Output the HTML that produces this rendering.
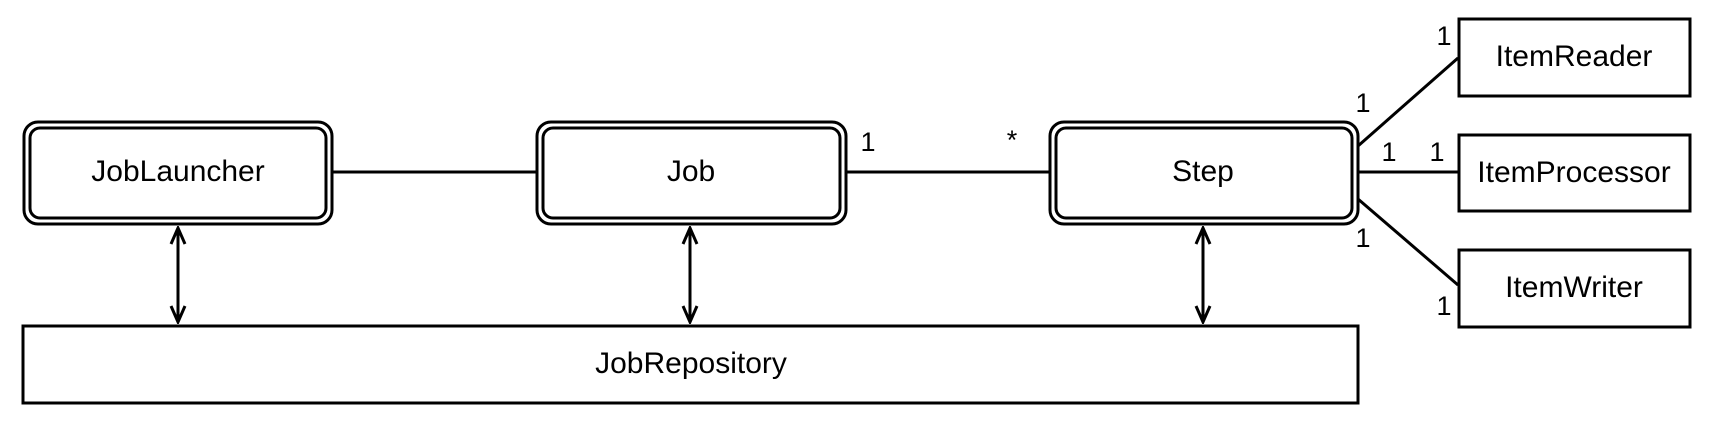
<!DOCTYPE html>
<html><head><meta charset="utf-8"><style>
html,body{margin:0;padding:0;background:#fff;}
svg{display:block;}
text{font-family:"Liberation Sans",Arial,sans-serif;fill:#000;}
</style></head><body>
<svg width="1716" height="426" viewBox="0 0 1716 426" xmlns="http://www.w3.org/2000/svg">
<defs>
<marker id="ah" viewBox="0 0 20 20" refX="18" refY="10" markerWidth="20" markerHeight="20" markerUnits="userSpaceOnUse" orient="auto-start-reverse">
<path d="M2,3 L18,10 L2,17" fill="none" stroke="#000" stroke-width="3"/>
</marker>
</defs>
<g fill="none" stroke="#000" stroke-width="3">
<line x1="332" y1="172" x2="536" y2="172"/>
<line x1="846" y1="172" x2="1049" y2="172"/>
<line x1="1358" y1="172" x2="1458" y2="172"/>
<line x1="1358" y1="146" x2="1458" y2="58"/>
<line x1="1358" y1="199" x2="1458" y2="285"/>
<line x1="178" y1="228" x2="178" y2="322" marker-start="url(#ah)" marker-end="url(#ah)"/>
<line x1="690" y1="228" x2="690" y2="322" marker-start="url(#ah)" marker-end="url(#ah)"/>
<line x1="1203" y1="228" x2="1203" y2="322" marker-start="url(#ah)" marker-end="url(#ah)"/>
<rect x="24" y="122" width="308" height="102" rx="14" fill="#fff"/>
<rect x="30" y="128" width="296" height="90" rx="10"/>
<rect x="537" y="122" width="309" height="102" rx="14" fill="#fff"/>
<rect x="543" y="128" width="297" height="90" rx="10"/>
<rect x="1050" y="122" width="308" height="102" rx="14" fill="#fff"/>
<rect x="1056" y="128" width="296" height="90" rx="10"/>
<rect x="23" y="326" width="1335" height="77"/>
<rect x="1459" y="19" width="231" height="77"/>
<rect x="1459" y="135" width="231" height="76"/>
<rect x="1459" y="250" width="231" height="77"/>
</g>
<g font-size="30" text-anchor="middle">
<text x="178" y="181">JobLauncher</text>
<text x="691" y="181">Job</text>
<text x="1203" y="181">Step</text>
<text x="691" y="373">JobRepository</text>
<text x="1574" y="66">ItemReader</text>
<text x="1574" y="182">ItemProcessor</text>
<text x="1574" y="297">ItemWriter</text>
</g>
<g font-size="27" text-anchor="middle">
<text x="868" y="151">1</text>
<text x="1012" y="149">*</text>
<text x="1444" y="45">1</text>
<text x="1363" y="112">1</text>
<text x="1389" y="161">1</text>
<text x="1437" y="161">1</text>
<text x="1363" y="247">1</text>
<text x="1444" y="315">1</text>
</g>
</svg>
</body></html>
